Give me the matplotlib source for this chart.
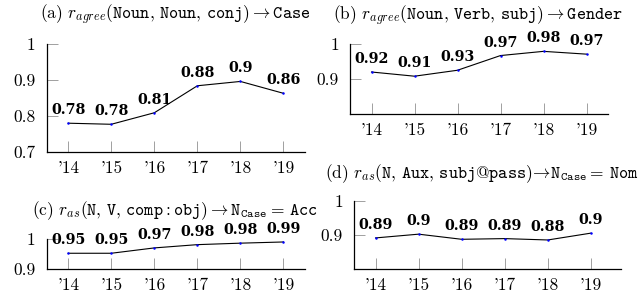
import matplotlib
matplotlib.use("Agg")
import matplotlib.pyplot as plt

plt.rcParams['font.family'] = 'cmr10'
plt.rcParams['mathtext.fontset'] = 'cm'
plt.rcParams['axes.formatter.use_mathtext'] = True

years = ["'14", "'15", "'16", "'17", "'18", "'19"]

a_vals = [0.780, 0.777, 0.809, 0.884, 0.896, 0.863]
a_text = ["0.78", "0.78", "0.81", "0.88", "0.9", "0.86"]
b_vals = [0.920, 0.908, 0.925, 0.967, 0.979, 0.971]
b_text = ["0.92", "0.91", "0.93", "0.97", "0.98", "0.97"]
c_vals = [0.953, 0.953, 0.971, 0.982, 0.987, 0.991]
c_text = ["0.95", "0.95", "0.97", "0.98", "0.98", "0.99"]
d_vals = [0.891, 0.902, 0.887, 0.889, 0.885, 0.905]
d_text = ["0.89", "0.9", "0.89", "0.89", "0.88", "0.9"]

titles = [
    r"(a) $r_{agree}(\mathtt{Noun},\,\mathtt{Noun},\,\mathtt{conj})\rightarrow\mathtt{Case}$",
    r"(b) $r_{agree}(\mathtt{Noun},\,\mathtt{Verb},\,\mathtt{subj})\rightarrow\mathtt{Gender}$",
    r"(c) $r_{as}(\mathtt{N},\,\mathtt{V},\,\mathtt{comp}:\mathtt{obj})\rightarrow\mathtt{N}_{\mathtt{Case}}=\,\mathtt{Acc}$",
    r"(d) $r_{as}(\mathtt{N},\,\mathtt{Aux},\,\mathtt{subj@pass})\!\rightarrow\!\mathtt{N}_{\mathtt{Case}}=\,\mathtt{Nom}$",
]

fig = plt.figure(figsize=(6.38, 2.91), dpi=100)


def panel(rect, vals, labels, yticks, yticklabels, ylim, xlim):
    ax = fig.add_axes(rect)
    x = list(range(len(years)))
    ax.plot(x, vals, color='black', lw=0.8, marker='o', ms=1.8, mew=0,
            mfc='blue', zorder=3)
    for xi, v, t in zip(x, vals, labels):
        ax.annotate(t, (xi, v), xytext=(0, 9), textcoords='offset pixels',
                    ha='center', va='baseline', fontsize=10.3,
                    family='DejaVu Serif', fontweight='bold',
                    annotation_clip=False)
    ax.set_xlim(*xlim)
    ax.set_ylim(*ylim)
    ax.set_xticks(x)
    ax.set_xticklabels(years)
    ax.set_yticks(yticks)
    ax.set_yticklabels(yticklabels)
    for s in ['top', 'right']:
        ax.spines[s].set_visible(False)
    for s in ['left', 'bottom']:
        ax.spines[s].set_linewidth(0.9)
    ax.tick_params(axis='both', direction='in', length=8, width=0.6,
                   color='#909090', labelsize=12.5)
    ax.tick_params(axis='x', pad=6)
    ax.tick_params(axis='y', pad=8)
    return ax


W, H = 638.0, 291.0


def rect(l, r, t, b):
    return [l / W, 1 - b / H, (r - l) / W, (b - t) / H]


panel(rect(46.7, 305, 44, 152), a_vals, a_text,
      [0.7, 0.8, 0.9, 1.0], ["0.7", "0.8", "0.9", "1"], (0.7, 1.0), (-0.5, 5.5))
panel(rect(350, 608, 44, 114), b_vals, b_text,
      [0.9, 1.0], ["0.9", "1"], (0.8, 1.0), (-0.5, 5.5))
panel(rect(46.7, 305, 239.3, 269), c_vals, c_text,
      [0.9, 1.0], ["0.9", "1"], (0.9, 1.0), (-0.5, 5.5))
panel(rect(354, 621, 200.7, 269), d_vals, d_text,
      [0.9, 1.0], ["0.9", "1"], (0.8, 1.0), (-0.5, 5.7))

title_pos = [(175.5, 15), (478, 16), (175, 211), (482, 174)]
for (tx, ty), t in zip(title_pos, titles):
    fig.text(tx / W, 1 - ty / H, t, ha='center', va='center', fontsize=12.5)

fig.savefig("out.png", dpi=100)
